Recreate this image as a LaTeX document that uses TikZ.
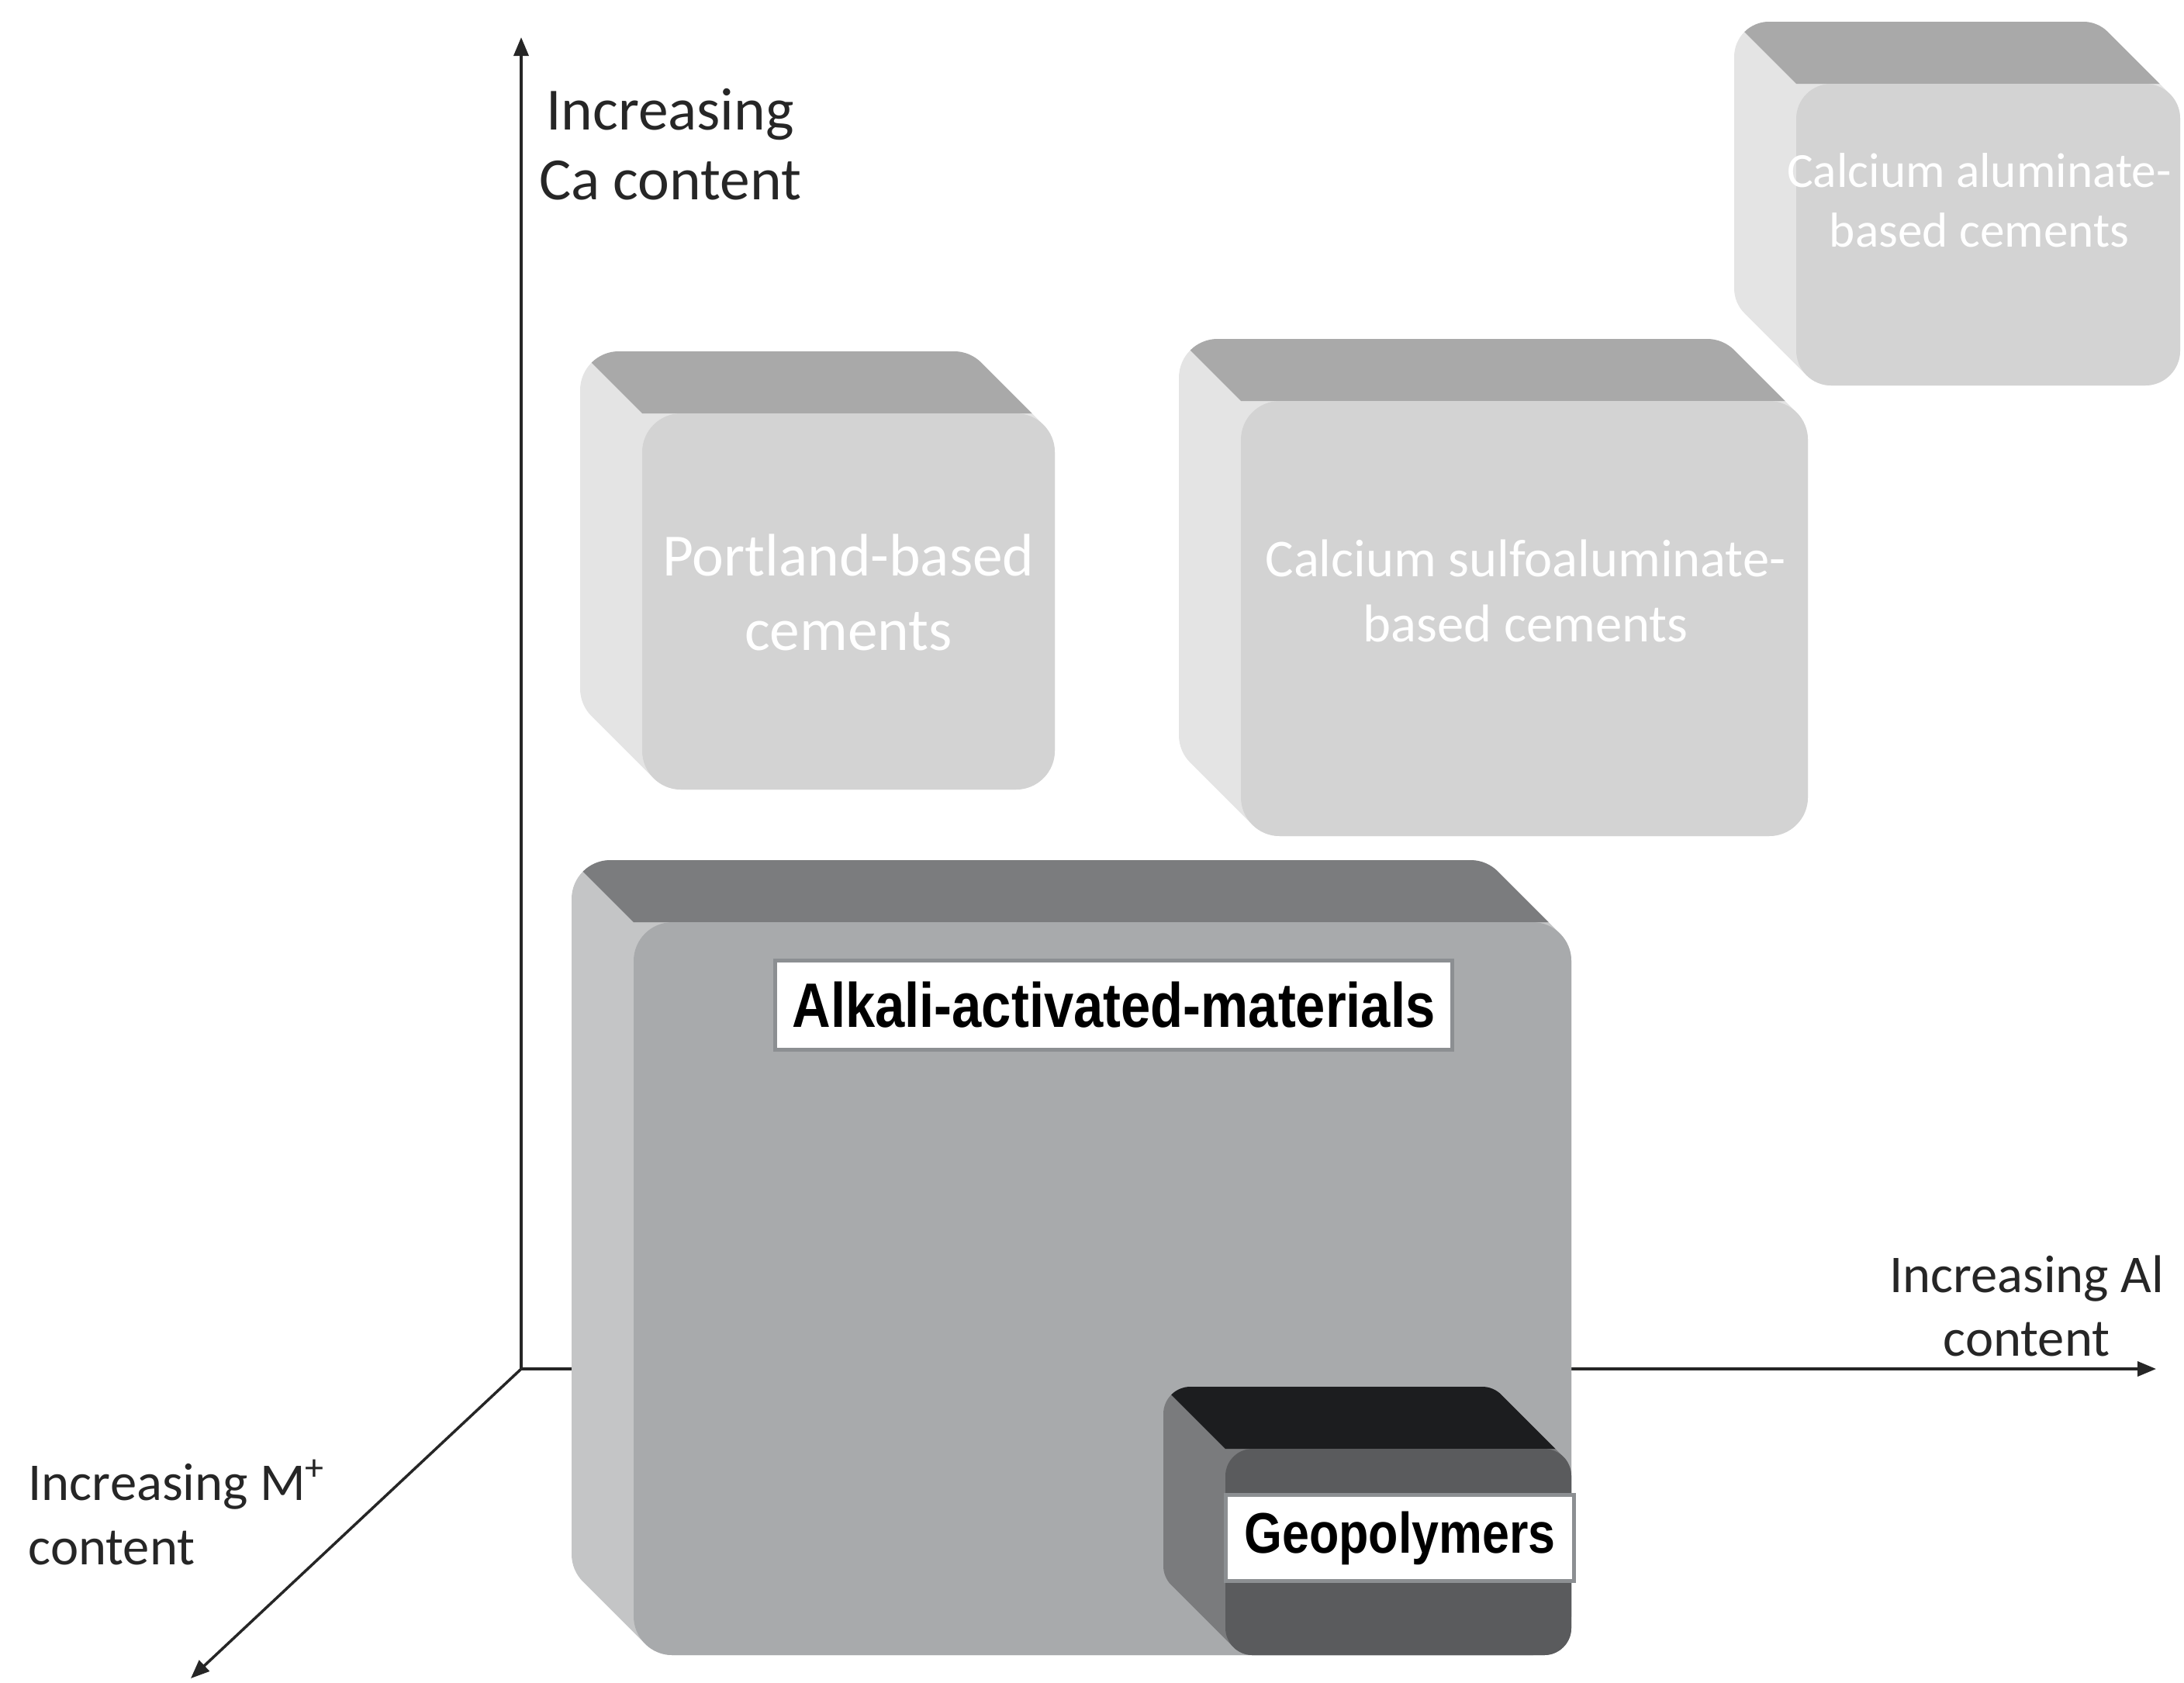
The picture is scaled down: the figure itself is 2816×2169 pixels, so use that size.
\documentclass[tikz,border=0pt]{standalone}
\usepackage{fontspec}
\setmainfont{Carlito}
\newfontfamily\labelfont[FakeStretch=0.85]{Liberation Sans}
\usetikzlibrary{arrows.meta}

\definecolor{palefront}{HTML}{D3D3D3}
\definecolor{paletop}{HTML}{A9A9A9}
\definecolor{paleside}{HTML}{E4E4E4}
\definecolor{aamfront}{HTML}{A8AAAC}
\definecolor{aamtop}{HTML}{7B7C7E}
\definecolor{aamside}{HTML}{C4C5C6}
\definecolor{geofront}{HTML}{5A5B5D}
\definecolor{geotop}{HTML}{1C1D1F}
\definecolor{geoside}{HTML}{7A7B7D}
\definecolor{tagborder}{HTML}{8C8F92}

% front face x1,y1,x2,y2; corner radius; front, top and side colours
\newcommand{\cementbox}[8]{%
  \fill[#8, rounded corners=#5] \foreach \t in {0,2,...,80}
    { ({#1-\t},{#2-\t}) rectangle ({#3-\t},{#4-\t}) };
  \begin{scope}
    \clip[rounded corners=#5] \foreach \t in {0,2,...,80}
      { ({#1-\t},{#2-\t}) rectangle ({#3-\t},{#4-\t}) };
    \fill[#7] (#1,#2) -- ({#1-200},{#2-200}) -- ({#3+50},{#2-200}) -- ({#3+50},#2) -- cycle;
  \end{scope}
  \fill[#6, rounded corners=#5] (#1,#2) rectangle (#3,#4);
}

\begin{document}
\begin{tikzpicture}
    [x=0.01cm, y=-0.01cm,
     axis/.style={line width=0.035cm, draw=black!85, -{Triangle[length=0.24cm,width=0.19cm]}},
     axislabel/.style={align=center, text=black!85, inner sep=0pt,
                       font=\fontsize{22pt}{25.6pt}\selectfont},
     smalllabel/.style={axislabel, font=\fontsize{19.5pt}{23.5pt}\selectfont},
     paletext/.style={align=center, text=white, inner sep=0pt},
     tag/.style={draw=tagborder, line width=0.05cm, fill=white, inner sep=0pt,
                 font=\labelfont\bfseries}]
    \useasboundingbox (0,0) rectangle (2816,2169);
    %\draw [help lines, step=100] (0,0) grid (2816,2169);

    % axes
    \coordinate (origin) at (672,1765);
    \coordinate (caend) at (672,48);
    \coordinate (alend) at (2780,1765);
    \coordinate (mend) at (246,2164);
    \draw [axis] (origin) -- (caend);
    \draw [axis] (origin) -- (alend);
    \draw [axis] (origin) -- (mend);

    \node [axislabel] (calabel) at (864,186) {Increasing\\Ca content};
    \node [smalllabel] (allabel) at (2613,1684) {Increasing Al\\content};
    \node [smalllabel, align=left, anchor=west] (mlabel) at (36,1950)
        {Increasing M\textsuperscript{+}\\content};

    % faded cement families
    \cementbox{2316}{108}{2811}{497}{0.45cm}{palefront}{paletop}{paleside}
    \node [paletext, font=\fontsize{18pt}{22pt}\selectfont] (cac) at (2552,258)
        {Calcium aluminate-\\based cements};

    \cementbox{828}{533}{1360}{1018}{0.5cm}{palefront}{paletop}{paleside}
    \node [paletext, font=\fontsize{22pt}{27.5pt}\selectfont] (opc) at (1094,764)
        {Portland-based\\cements};

    \cementbox{1600}{517}{2331}{1078}{0.5cm}{palefront}{paletop}{paleside}
    \node [paletext, font=\fontsize{19.5pt}{24pt}\selectfont] (csa) at (1967,762)
        {Calcium sulfoaluminate-\\based cements};

    % alkali-activated materials and geopolymers
    \cementbox{817}{1189}{2026}{2134}{0.5cm}{aamfront}{aamtop}{aamside}
    \cementbox{1580}{1868}{2026}{2134}{0.35cm}{geofront}{geotop}{geoside}

    \node [tag, minimum width=8.73cm, minimum height=1.15cm,
           font=\labelfont\bfseries\fontsize{23pt}{27pt}\selectfont] (aam) at (1436,1296)
        {Alkali-activated-materials};
    \node [tag, minimum width=4.49cm, minimum height=1.11cm,
           font=\labelfont\bfseries\fontsize{21pt}{25pt}\selectfont] (geo) at (1805,1983)
        {Geopolymers};
\end{tikzpicture}
\end{document}
